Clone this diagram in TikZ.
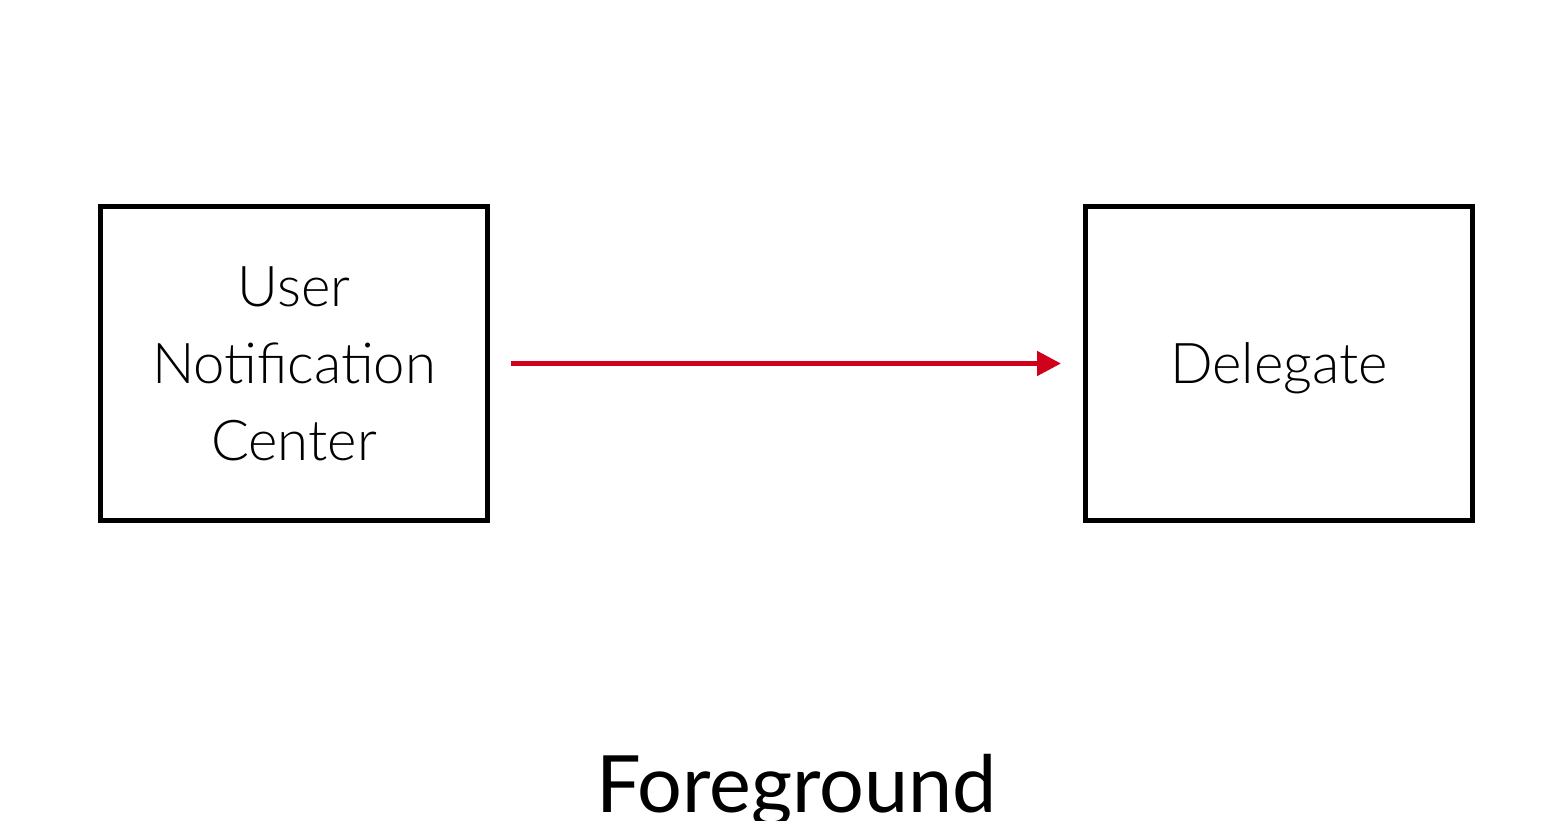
\documentclass[tikz,border=0pt]{standalone}
\usepackage{fontspec}
\setmainfont{Lato}[UprightFont=* Light]
\newfontfamily\labelfont{Lato}
\usetikzlibrary{arrows.meta}
\usetikzlibrary{positioning}
\definecolor{flowred}{RGB}{208,2,27}

\begin{document}
\begin{tikzpicture}[
	box/.style = {
	  draw, black, line width = 0.1cm,
	  minimum width = 7.74cm, minimum height = 6.28cm,
	  align = center, inner sep = 0pt,
	  font = \fontsize{32}{43.8}\selectfont,
	},
	flow/.style = {
	  line width = 0.1cm, flowred,
	  -{Triangle[length=0.48cm, width=0.48cm]},
	},
  ]
  \useasboundingbox (0,0) rectangle (30.84,16.4);

  \node[box] (unc) at (5.88, 9.13) {User\\Notification\\Center};
  \node[box, text depth = 0pt, right = 11.86cm of unc] (delegate) {Delegate};

  \draw[flow, shorten < = 0.42cm, shorten > = 0.44cm] (unc) -- (delegate);

  \node[anchor = base, font = \labelfont\fontsize{45}{54}\selectfont]
	(title) at (15.93, 0.16) {Foreground};
\end{tikzpicture}
\end{document}
